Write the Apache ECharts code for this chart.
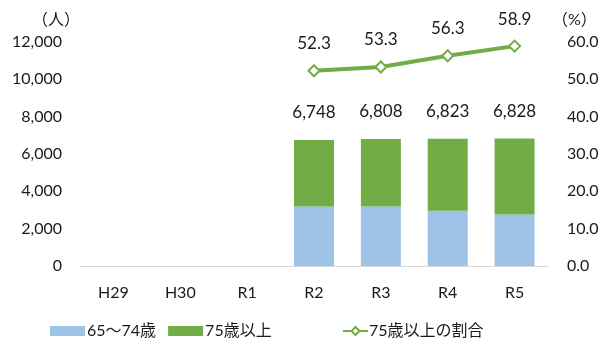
<!DOCTYPE html>
<html>
<head>
<meta charset="utf-8">
<script src="https://cdn.jsdelivr.net/npm/echarts@6/dist/echarts.min.js"></script>
<style>
  html, body { margin: 0; padding: 0; background: #fff; }
  #chart { width: 605px; height: 342px; }
</style>
</head>
<body>
<div id="chart"></div>
<script>
// Fiscal years
const categories = ['H29', 'H30', 'R1', 'R2', 'R3', 'R4', 'R5'];
// Population aged 65–74 (persons)
const age65to74 = [null, null, null, 3190, 3185, 2960, 2760];
// Population aged 75 and over (persons)
const age75plus = [null, null, null, 3558, 3623, 3863, 4068];
// Totals shown above each bar
const totals = [null, null, null, 6748, 6808, 6823, 6828];
// Share of 75+ among 65+ (%)
const ratio75 = [null, null, null, 52.3, 53.3, 56.3, 58.9];

const FONT = 'Lato, "Noto Sans CJK JP", sans-serif';
const TXT = '#1a1a1a';

const chart = echarts.init(document.getElementById('chart'), null, { renderer: 'canvas' });

chart.setOption({
  animation: false,
  textStyle: { fontFamily: FONT },
  grid: { left: 80, right: 57, top: 42, bottom: 76 },
  legend: [
    {
      data: ['65〜74歳', '75歳以上'],
      left: 45, top: 318,
      itemWidth: 35, itemHeight: 10, itemGap: 12,
      icon: 'rect',
      textStyle: { fontSize: 16, color: TXT, fontFamily: FONT, padding: [0, 0, 0, -3] }
    },
    {
      data: ['75歳以上の割合'],
      left: 337, top: 318,
      itemWidth: 25, itemHeight: 10,
      textStyle: { fontSize: 16, color: TXT, fontFamily: FONT, padding: [0, 0, 0, -4] }
    }
  ],
  xAxis: {
    type: 'category',
    data: categories,
    axisLine: { lineStyle: { color: '#D9D9D9', width: 1 } },
    axisTick: { show: false },
    axisLabel: { fontSize: 16, color: TXT, margin: 19, fontFamily: FONT }
  },
  yAxis: [
    {
      type: 'value', min: 0, max: 12000, interval: 2000,
      name: '（人）', nameLocation: 'end', nameGap: 14,
      nameTextStyle: { fontSize: 16, color: TXT, align: 'right', padding: [0, 0, 0, 0] },
      splitLine: { show: false },
      axisLine: { show: false }, axisTick: { show: false },
      axisLabel: {
        fontSize: 16, color: TXT, margin: 18,
        formatter: v => v.toLocaleString('en-US')
      }
    },
    {
      type: 'value', min: 0, max: 60, interval: 10,
      name: '（%）', nameLocation: 'end', nameGap: 14,
      nameTextStyle: { fontSize: 16, color: TXT, align: 'left', padding: [0, 0, 0, 4] },
      splitLine: { show: false },
      axisLine: { show: false }, axisTick: { show: false },
      axisLabel: {
        fontSize: 16, color: TXT, margin: 19,
        formatter: v => v.toFixed(1)
      }
    }
  ],
  series: [
    {
      name: '65〜74歳', type: 'bar', stack: 'pop',
      data: age65to74, barWidth: 40,
      itemStyle: { color: '#9DC3E6' }
    },
    {
      name: '75歳以上', type: 'bar', stack: 'pop',
      data: age75plus, barWidth: 40,
      itemStyle: { color: '#70AD47' },
      label: {
        show: true, position: 'top', distance: 19,
        fontSize: 17, color: TXT, fontFamily: FONT,
        formatter: p => totals[p.dataIndex] == null ? '' : totals[p.dataIndex].toLocaleString('en-US')
      }
    },
    {
      name: '75歳以上の割合', type: 'line', yAxisIndex: 1,
      data: ratio75,
      symbol: 'diamond', symbolSize: 11,
      lineStyle: { color: '#70AD47', width: 4 },
      itemStyle: { color: '#fff', borderColor: '#70AD47', borderWidth: 2 },
      label: {
        show: true, position: 'top', distance: 12,
        fontSize: 17, color: TXT, fontFamily: FONT,
        formatter: p => p.value.toFixed(1)
      }
    }
  ]
});
</script>
</body>
</html>
